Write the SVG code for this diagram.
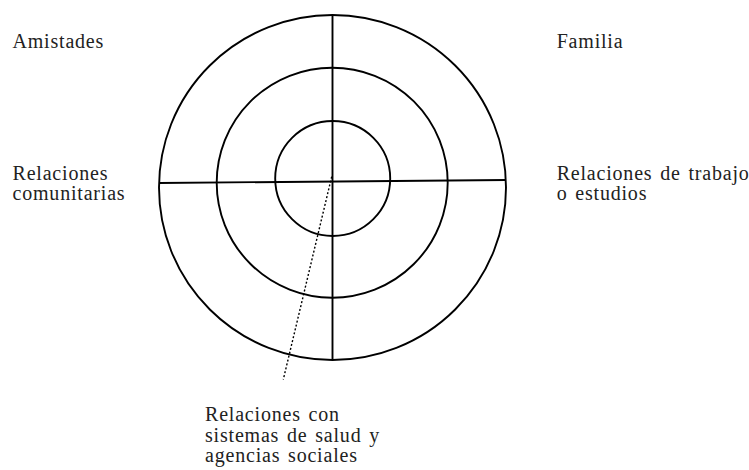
<svg xmlns="http://www.w3.org/2000/svg" width="749" height="470" viewBox="0 0 749 470">
<style>
.ring{fill:none;stroke:#000;stroke-width:1.9}
.ln{stroke:#000;stroke-width:1.9;fill:none}
.dot{stroke:#000;stroke-width:1.4;stroke-dasharray:2 2;fill:none}
.lbl{font-family:'Liberation Serif',Tinos,'Times New Roman',serif;font-size:20px;fill:#222;letter-spacing:0.8px;word-spacing:2px}
</style>
<rect width="749" height="470" fill="#fff"/>
<g id="rings">
<ellipse id="outer" class="ring" cx="332.5" cy="187.5" rx="173.5" ry="172.5"/>
<ellipse id="middle" class="ring" cx="332.2" cy="182.7" rx="115.5" ry="115"/>
<ellipse id="inner" class="ring" cx="332.7" cy="178.5" rx="57.5" ry="57.5"/>
</g>
<g id="connectors">
<line class="ln" x1="332.5" y1="15" x2="332.5" y2="360"/>
<line class="ln" x1="159" y1="183" x2="506" y2="180"/>
<line class="dot" x1="331.7" y1="176.7" x2="283.3" y2="379.5"/>
</g>
<g id="amistades" class="lbl" font-family="Liberation Serif, serif"><text x="12.5" y="47.7">Amistades</text></g>
<g id="familia" class="lbl" font-family="Liberation Serif, serif"><text x="556.7" y="47.7">Familia</text></g>
<g id="comunitarias" class="lbl" font-family="Liberation Serif, serif"><text x="12.5" y="180">Relaciones</text><text x="12.5" y="200">comunitarias</text></g>
<g id="trabajo" class="lbl" font-family="Liberation Serif, serif"><text x="556.7" y="180">Relaciones de trabajo</text><text x="556.7" y="200">o estudios</text></g>
<g id="salud" class="lbl" font-family="Liberation Serif, serif"><text x="205" y="421">Relaciones con</text><text x="205" y="441.5">sistemas de salud y</text><text x="205" y="462">agencias sociales</text></g>
</svg>
